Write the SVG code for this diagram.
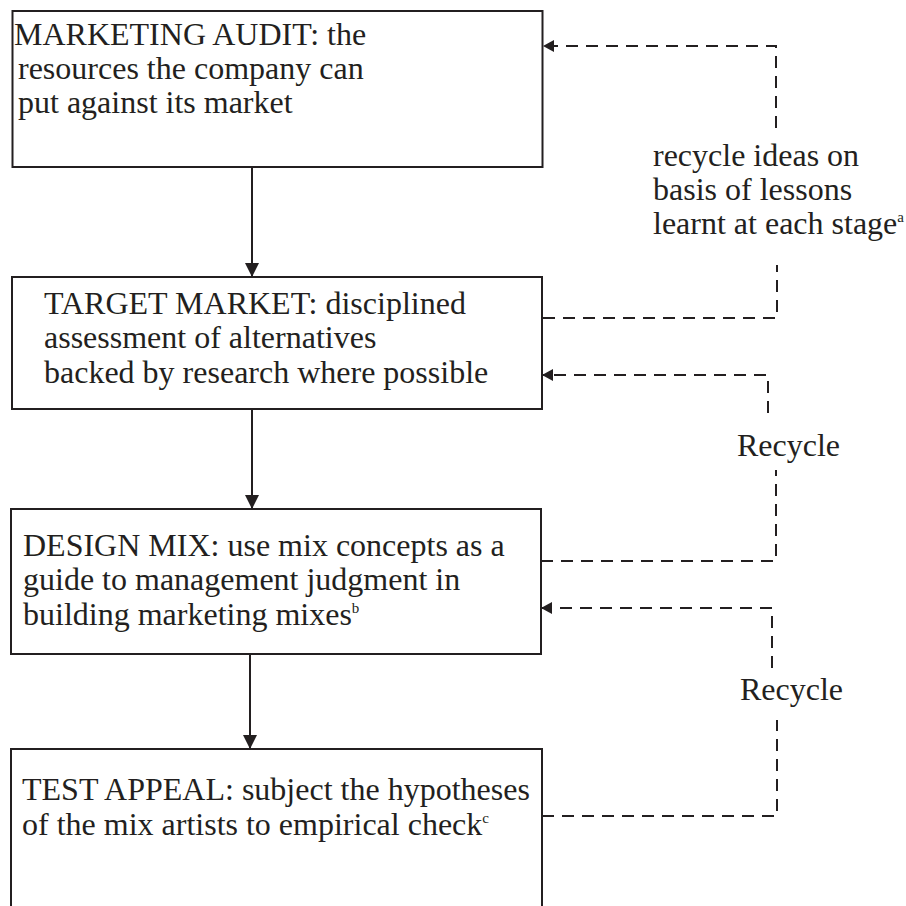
<svg xmlns="http://www.w3.org/2000/svg" width="906" height="906" viewBox="0 0 906 906">
  <style>
    .box { fill: #ffffff; stroke: #231f20; stroke-width: 2; }
    .t { font-family: "Liberation Serif", "Times New Roman", serif; font-size: 32px; fill: #231f20; }
    .sup { font-size: 15px; }
    .solid { fill: none; stroke: #231f20; stroke-width: 2; }
    .dash { fill: none; stroke: #231f20; stroke-width: 2; stroke-dasharray: 12 8; }
  </style>
  <defs>
    <marker id="arrowSolid" viewBox="0 0 14 14" refX="14" refY="7" markerWidth="14" markerHeight="14" markerUnits="userSpaceOnUse" orient="auto">
      <path d="M0,0 L14,7 L0,14 z" fill="#231f20"/>
    </marker>
    <marker id="arrowDash" viewBox="0 0 11 12" refX="11" refY="6" markerWidth="11" markerHeight="12" markerUnits="userSpaceOnUse" orient="auto">
      <path d="M0,0 L11,6 L0,12 z" fill="#231f20"/>
    </marker>
  </defs>
  <rect width="906" height="906" fill="#ffffff"/>

  <g id="connectors">
    <path class="solid" d="M252,167 V277" marker-end="url(#arrowSolid)"/>
    <path class="solid" d="M252,409 V509" marker-end="url(#arrowSolid)"/>
    <path class="solid" d="M250,654 V749" marker-end="url(#arrowSolid)"/>

    <path class="dash" d="M543,318 H777 V265"/>
    <path class="dash" d="M776,128 V46 H543" marker-end="url(#arrowDash)"/>

    <path class="dash" d="M541,561 H776 V470"/>
    <path class="dash" d="M768,413 V375 H542" marker-end="url(#arrowDash)"/>

    <path class="dash" d="M542,816 H777 V720"/>
    <path class="dash" d="M772,668 V608 H541" marker-end="url(#arrowDash)"/>
  </g>

  <g id="audit">
    <rect class="box" x="12.5" y="11" width="530" height="156"/>
    <text class="t" x="14" y="45">MARKETING AUDIT: the</text>
    <text class="t" x="18" y="79">resources the company can</text>
    <text class="t" x="18" y="113">put against its market</text>
  </g>

  <g id="target">
    <rect class="box" x="12" y="277" width="530" height="132"/>
    <text class="t" x="44" y="314">TARGET MARKET: disciplined</text>
    <text class="t" x="44" y="348">assessment of alternatives</text>
    <text class="t" x="44" y="383">backed by research where possible</text>
  </g>

  <g id="design">
    <rect class="box" x="11" y="509" width="530" height="145"/>
    <text class="t" x="23" y="556">DESIGN MIX: use mix concepts as a</text>
    <text class="t" x="23" y="590">guide to management judgment in</text>
    <text class="t" x="23" y="625">building marketing mixes<tspan class="sup" dy="-12">b</tspan></text>
  </g>

  <g id="test">
    <rect class="box" x="11" y="749" width="531" height="200"/>
    <text class="t" x="22" y="800">TEST APPEAL: subject the hypotheses</text>
    <text class="t" x="22" y="835">of the mix artists to empirical check<tspan class="sup" dy="-12">c</tspan></text>
  </g>

  <g id="label-recycle-ideas">
    <text class="t" x="653" y="166">recycle ideas on</text>
    <text class="t" x="653" y="200">basis of lessons</text>
    <text class="t" x="653" y="234">learnt at each stage<tspan class="sup" dy="-12">a</tspan></text>
  </g>

  <g id="label-recycle-1">
    <text class="t" x="737" y="456">Recycle</text>
  </g>
  <g id="label-recycle-2">
    <text class="t" x="740" y="700">Recycle</text>
  </g>
</svg>
